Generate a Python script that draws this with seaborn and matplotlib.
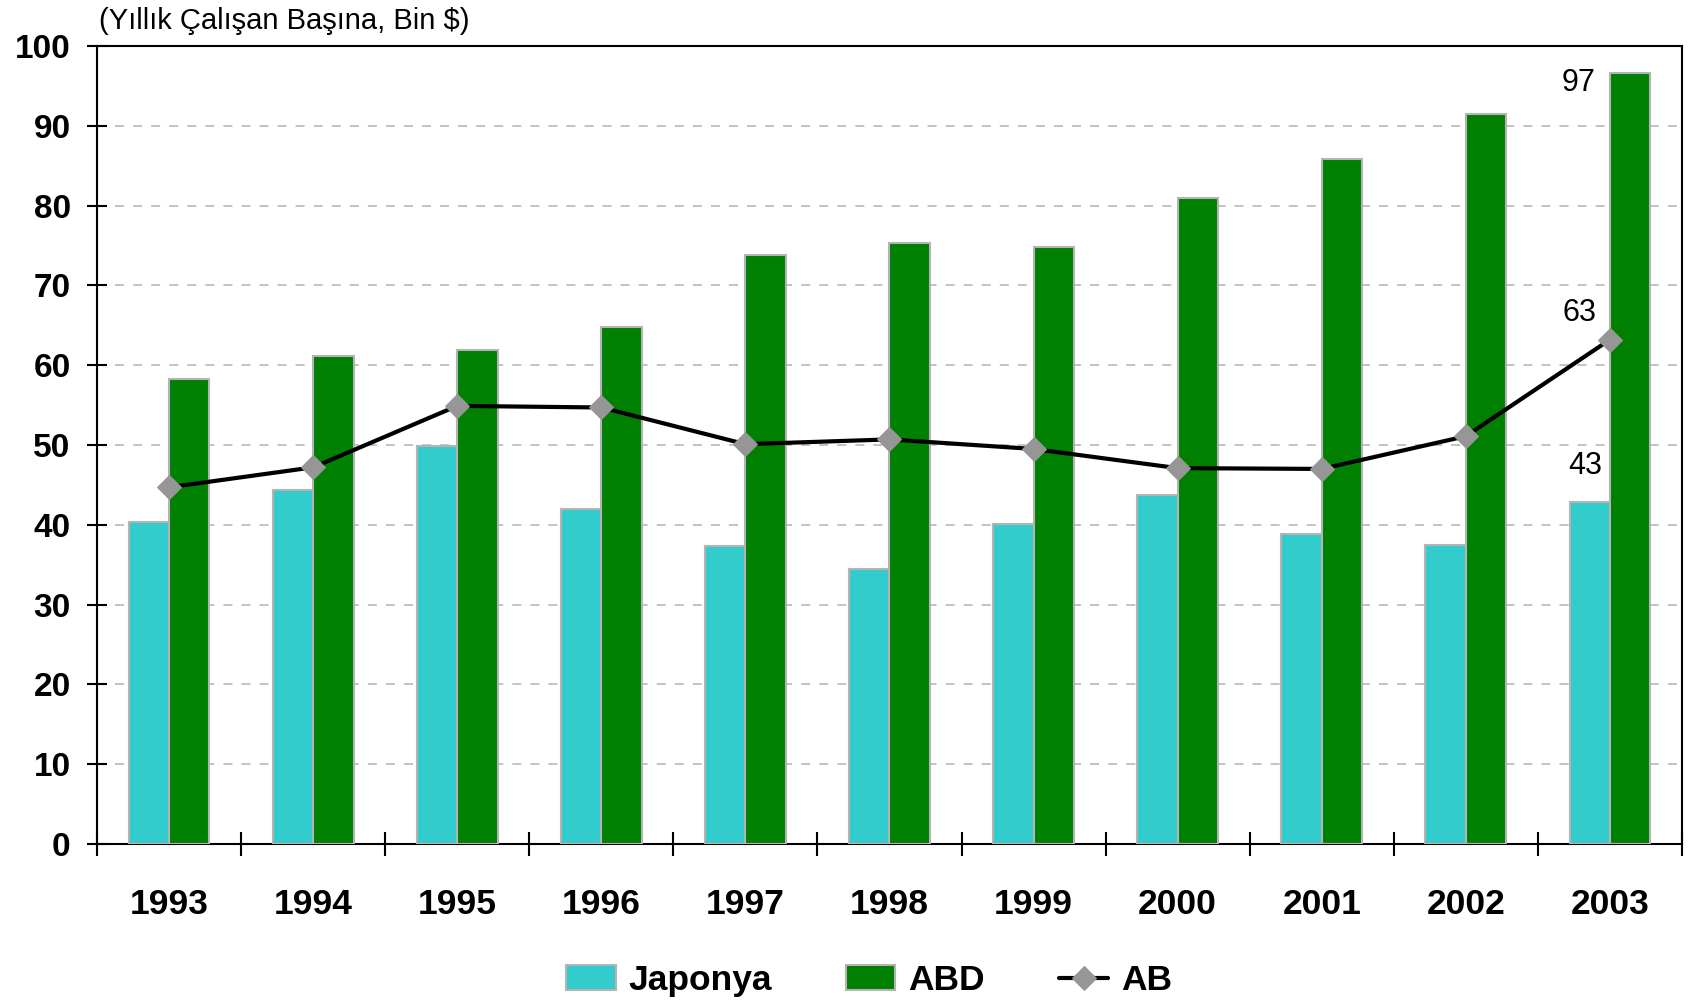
import pandas as pd
import seaborn as sns
import matplotlib.pyplot as plt

years = ['1993', '1994', '1995', '1996', '1997', '1998', '1999', '2000', '2001', '2002', '2003']
japonya = [40.3, 44.3, 49.9, 42.0, 37.4, 34.5, 40.1, 43.7, 38.9, 37.5, 42.8]
abd = [58.3, 61.1, 61.9, 64.8, 73.8, 75.3, 74.8, 81.0, 85.8, 91.5, 96.6]
ab = [44.7, 47.2, 54.9, 54.7, 50.1, 50.7, 49.5, 47.1, 47.0, 51.1, 63.2]

bars = pd.DataFrame({'yil': years * 2,
                     'deger': japonya + abd,
                     'ulke': ['Japonya'] * len(years) + ['ABD'] * len(years)})

sns.set_theme(style='white')
plt.rcParams['font.family'] = ['Liberation Sans', 'DejaVu Sans']
plt.rcParams['text.color'] = 'black'
plt.rcParams['xtick.color'] = 'black'
plt.rcParams['ytick.color'] = 'black'

fig = plt.figure(figsize=(16.88, 10.02), dpi=100)
ax = fig.add_axes([0.0575, 0.1577, 0.9389, 0.7964])

sns.barplot(data=bars, x='yil', y='deger', hue='ulke', ax=ax,
            palette={'Japonya': '#33CCCC', 'ABD': '#008000'},
            width=0.56, gap=0, edgecolor='#B4B4B4', linewidth=1.5,
            saturation=1, errorbar=None, zorder=3)

sns.lineplot(x=range(len(years)), y=ab, ax=ax, color='black', linewidth=3,
             marker='D', markersize=12, markerfacecolor='#969696',
             markeredgecolor='#969696', label='AB', zorder=4)

ax.set_ylim(0, 100)
ax.set_xlim(-0.5, len(years) - 0.5)
ax.set_yticks(range(0, 101, 10))
ax.set_xticks([i + 0.5 for i in range(-1, len(years))], minor=True)
ax.set_xlabel('')
ax.set_ylabel('')

ax.yaxis.grid(True, color='#BEBEBE', linestyle=(0, (5, 5)), linewidth=1.3, zorder=0)
for s in ax.spines.values():
    s.set_visible(True)
    s.set_color('black')
    s.set_linewidth(1.5)

ax.tick_params(axis='y', direction='inout', length=14, width=1.5, pad=12,
               labelsize=24, left=True)
ax.tick_params(axis='x', which='major', length=0, pad=32, labelsize=25.5)
ax.tick_params(axis='x', which='minor', direction='inout', length=17, width=1.5, bottom=True)
for lab in ax.get_xticklabels() + ax.get_yticklabels():
    lab.set_fontweight('bold')

ax.text(9.78, 95.3, '97', fontsize=22, ha='center', va='center')
ax.text(9.79, 66.5, '63', fontsize=22, ha='center', va='center')
ax.text(9.83, 47.4, '43', fontsize=22, ha='center', va='center')

fig.text(0.0587, 1 - 21 / 1002, '(Yıllık Çalışan Başına, Bin $)', fontsize=21,
         ha='left', va='center')

handles, labels = ax.get_legend_handles_labels()
leg = ax.legend(handles, labels, loc='center', bbox_to_anchor=(0.487, -0.171),
                ncol=3, frameon=False, fontsize=25.5, handlelength=1.4,
                handleheight=0.7, columnspacing=2.1, handletextpad=0.35)
for t in leg.get_texts():
    t.set_fontweight('bold')

fig.savefig('out.png', dpi=100)
